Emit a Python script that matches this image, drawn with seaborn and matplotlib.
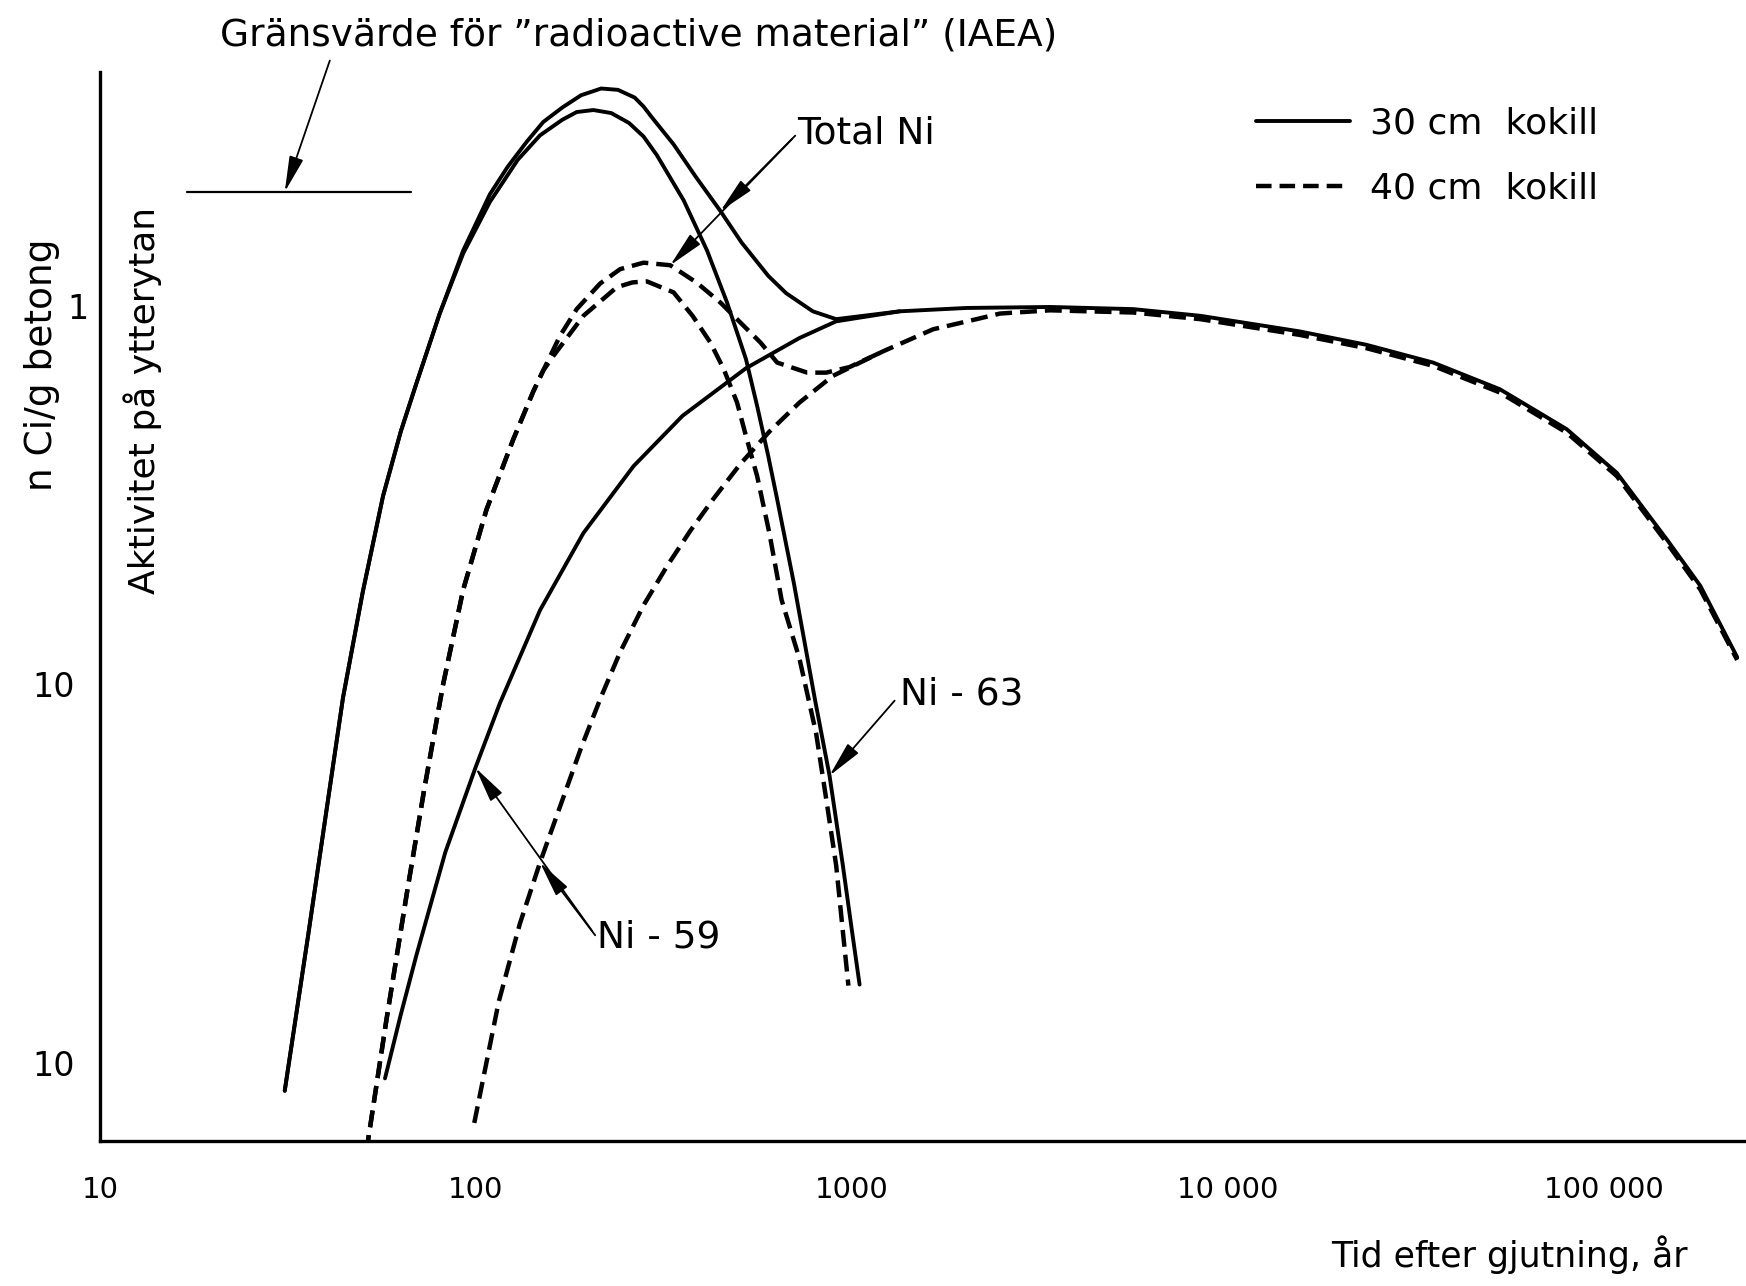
import matplotlib
matplotlib.use("Agg")
import numpy as np
import pandas as pd
import matplotlib.pyplot as plt
import seaborn as sns
from matplotlib.lines import Line2D
from matplotlib.transforms import ScaledTranslation

# Tid i år, aktivitet i nCi/g betong
# Total Ni, 30 cm kokill (heldragen)
total30_ar = [31.0, 35.8, 44.3, 50.0, 56.6, 63.1, 69.4, 80.1, 92.5, 108.9, 121.5, 136.4, 151.1,
              169.7, 190.5, 215.4, 238.7, 264.4, 279.3, 292.9, 335.7, 384.8, 447.2, 509.0, 599.5,
              668.7, 787.6, 909.0, 1341]
total30_akt = [0.00844, 0.0218, 0.0922, 0.1754, 0.3141, 0.4652, 0.6224, 0.9537, 1.40, 1.97, 2.33,
               2.71, 3.06, 3.34, 3.60, 3.75, 3.72, 3.55, 3.36, 3.16, 2.67, 2.19, 1.78, 1.47, 1.20,
               1.08, 0.967, 0.922, 0.967]

# Ni-63, 30 cm kokill
ni63_30_ar = [31.0, 35.8, 44.3, 50.0, 56.6, 63.1, 69.4, 80.1, 92.5, 108.9, 129.2, 148.1, 169.7,
              185.4, 205.4, 229.1, 255.6, 279.3, 303.0, 357.0, 412.0, 465.8, 523.0, 560.0, 599.5,
              633.2, 701.4, 798.4, 872.6, 947.0, 1000, 1049]
ni63_30_akt = [0.00844, 0.0218, 0.0922, 0.1754, 0.3141, 0.4652, 0.6224, 0.9537, 1.375, 1.88, 2.43,
               2.82, 3.10, 3.25, 3.29, 3.23, 3.04, 2.80, 2.50, 1.90, 1.40, 1.02, 0.723, 0.544,
               0.401, 0.308, 0.185, 0.091, 0.0574, 0.0332, 0.0225, 0.0161]

# Ni-59, 30 cm kokill
ni59_30_ar = [57.3, 63.1, 69.4, 82.9, 99.7, 115.8, 148.1, 193.2, 262.6, 354.5, 523.0, 725.6, 909.0,
              1341, 2020, 3369, 5617, 8460, 15530, 23380, 35220, 53010, 79860, 108500, 147600,
              181000, 226800]
ni59_30_akt = [0.0091, 0.0134, 0.0192, 0.0360, 0.0602, 0.0891, 0.157, 0.251, 0.377, 0.512, 0.684,
               0.822, 0.910, 0.967, 0.987, 0.993, 0.980, 0.941, 0.856, 0.789, 0.708, 0.602, 0.472,
               0.362, 0.241, 0.182, 0.118]

# Total Ni, 40 cm kokill (streckad)
total40_ar = [51.1, 57.7, 65.7, 72.8, 81.8, 92.5, 106.7, 125.7, 142.1, 151.1, 167.4, 185.4, 214.0,
              242.0, 279.3, 328.9, 387.4, 447.2, 505.5, 571.5, 633.2, 761.2, 855.0, 986.5, 1211]
total40_akt = [0.00582, 0.01285, 0.02857, 0.05254, 0.100, 0.1778, 0.2895, 0.4437, 0.5937, 0.6751,
               0.833, 0.980, 1.145, 1.25, 1.30, 1.28, 1.15, 1.02, 0.903, 0.800, 0.708, 0.666,
               0.666, 0.689, 0.758]

# Ni-63, 40 cm kokill
ni63_40_ar = [51.1, 57.7, 65.7, 72.8, 81.8, 92.5, 106.7, 125.7, 142.1, 151.1, 160.7, 193.2, 237.1,
              260.9, 285.1, 335.7, 377.0, 420.5, 456.5, 495.3, 523.0, 560.0, 603.6, 650.7, 725.6,
              803.9, 855.0, 909.0, 947.0, 979.7]
ni63_40_akt = [0.00582, 0.01285, 0.02857, 0.05254, 0.100, 0.1778, 0.2895, 0.4437, 0.5937, 0.6751,
               0.737, 0.941, 1.12, 1.153, 1.16, 1.085, 0.941, 0.800, 0.680, 0.555, 0.453, 0.355,
               0.251, 0.167, 0.117, 0.0742, 0.0498, 0.0332, 0.0222, 0.0160]

# Ni-59, 40 cm kokill
ni59_40_ar = [99.0, 115.0, 130.9, 148.1, 190.5, 215.4, 242.0, 279.3, 322.2, 371.9, 429.2, 505.5,
              603.6, 725.6, 890.6, 1211, 1646, 2147, 2479, 3369, 5617, 8460, 15530, 23380, 35220,
              53010, 79860, 108500, 147600, 181000, 226800]
ni59_40_akt = [0.00694, 0.01451, 0.02331, 0.03383, 0.0680, 0.0928, 0.1217, 0.1618, 0.205, 0.2545,
               0.3098, 0.3823, 0.4652, 0.555, 0.653, 0.758, 0.867, 0.922, 0.954, 0.973, 0.960,
               0.922, 0.838, 0.773, 0.694, 0.590, 0.462, 0.355, 0.236, 0.178, 0.116]

# Gränsvärde IAEA
iaea_grans = 2.0
iaea_ar = [17, 67]

x_ticks = [10, 100, 1000, 10000, 100000]
x_ticklabels = ["10", "100", "1000", "10 000", "100 000"]
y_ticks = [0.01, 0.1, 1]
y_ticklabels = ["10", "10", "1"]

sns.set_style("white")
plt.rcParams["font.family"] = ["DejaVu Sans"]
plt.rcParams["text.color"] = "black"
plt.rcParams["xtick.color"] = "black"
plt.rcParams["ytick.color"] = "black"
plt.rcParams["xtick.labelcolor"] = "black"
plt.rcParams["ytick.labelcolor"] = "black"

fig = plt.figure(figsize=(17.46, 12.86), dpi=100)
ax = fig.add_axes([0.0573, 0.1128, 0.9427, 0.8312])

lw_hel = 2.8
lw_str = 3.2
streck = (0, (3.8, 1.8))

for xs, ys in [(total30_ar, total30_akt), (ni63_30_ar, ni63_30_akt), (ni59_30_ar, ni59_30_akt)]:
    sns.lineplot(x=xs, y=ys, ax=ax, color="black", sort=False, estimator=None,
                 linewidth=lw_hel)
for xs, ys in [(total40_ar, total40_akt), (ni63_40_ar, ni63_40_akt), (ni59_40_ar, ni59_40_akt)]:
    sns.lineplot(x=xs, y=ys, ax=ax, color="black", sort=False, estimator=None,
                 linewidth=lw_str, linestyle=streck)

ax.plot(iaea_ar, [iaea_grans, iaea_grans], color="black", lw=1.6)

ax.set_xscale("log")
ax.set_yscale("log")
ax.set_xlim(10, 239400)
ax.set_ylim(0.00622, 4.146)
ax.set_xticks(x_ticks)
ax.set_xticklabels(x_ticklabels, fontsize=21, color="black")
ax.set_yticks(y_ticks)
ax.set_yticklabels(y_ticklabels, fontsize=24, color="black")
ax.minorticks_off()
ax.tick_params(axis="x", direction="out", length=9, width=1.6, pad=16, color="black")
ax.tick_params(axis="y", direction="out", length=8, width=2.2, pad=10, color="black")
for s in ["top", "right"]:
    ax.spines[s].set_visible(False)
for s in ["left", "bottom"]:
    ax.spines[s].set_linewidth(2.4)
    ax.spines[s].set_color("black")
ax.set_xlabel("")
ax.set_ylabel("")

# "1" står närmare axeln i originalet
etta = ax.get_yticklabels()[-1]
etta.set_transform(etta.get_transform() + ScaledTranslation(0.14, 0, fig.dpi_scale_trans))

pil = dict(arrowstyle="-|>,head_length=1.1,head_width=0.22", color="black", lw=1.3,
           shrinkA=2, shrinkB=0, relpos=(0, 0.5), mutation_scale=20)


def fig_pos(xd, yd):
    return (xd / 1568, 1 - yd / 1155)


# Gränsvärde
fig.text(*fig_pos(198, 32), "Gränsvärde för \u201dradioactive material\u201d (IAEA)",
         fontsize=27, ha="left", va="center")
ax.annotate("", xy=(31, iaea_grans), xycoords="data", xytext=fig_pos(297, 52),
            textcoords="figure fraction", arrowprops=pil)

# Total Ni
ax.annotate("Total Ni", xy=(total40_ar[15], total40_akt[15]), xytext=fig_pos(716, 120),
            textcoords="figure fraction", fontsize=27, ha="left", va="center", arrowprops=pil)
ax.annotate("", xy=(total30_ar[22], total30_akt[22]), xytext=fig_pos(716, 120),
            textcoords="figure fraction", arrowprops=pil)

# Ni-63
ax.annotate("Ni - 63", xy=(ni63_30_ar[28], ni63_30_akt[28]), xytext=fig_pos(808, 624),
            textcoords="figure fraction", fontsize=27, ha="left", va="center", arrowprops=pil)

# Ni-59
ax.annotate("Ni - 59", xy=(ni59_30_ar[4], ni59_30_akt[4]), xytext=fig_pos(536, 842),
            textcoords="figure fraction", fontsize=27, ha="left", va="center", arrowprops=pil)
ax.annotate("", xy=(ni59_40_ar[3], ni59_40_akt[3]), xytext=fig_pos(536, 842),
            textcoords="figure fraction", arrowprops=pil)

# Axeltexter
fig.text(*fig_pos(38, 328), "n Ci/g betong", rotation=90, fontsize=27, ha="center", va="center")
fig.text(*fig_pos(128, 360), "Aktivitet på ytterytan", rotation=90, fontsize=26,
         ha="center", va="center")
fig.text(*fig_pos(1195, 1127), "Tid efter gjutning, år", fontsize=25,
         ha="left", va="center")

# Teckenförklaring
handles = [Line2D([], [], color="black", lw=lw_hel),
           Line2D([], [], color="black", lw=lw_str, linestyle=(0, (3.5, 1.8)))]
fig.legend(handles, ["30 cm  kokill", "40 cm  kokill"], loc="upper left",
           bbox_to_anchor=fig_pos(1128, 96), frameon=False, fontsize=26,
           handlelength=2.6, handletextpad=0.55, labelspacing=0.85, borderpad=0,
           borderaxespad=0, labelcolor="black")

fig.savefig("out.png", dpi=100)
